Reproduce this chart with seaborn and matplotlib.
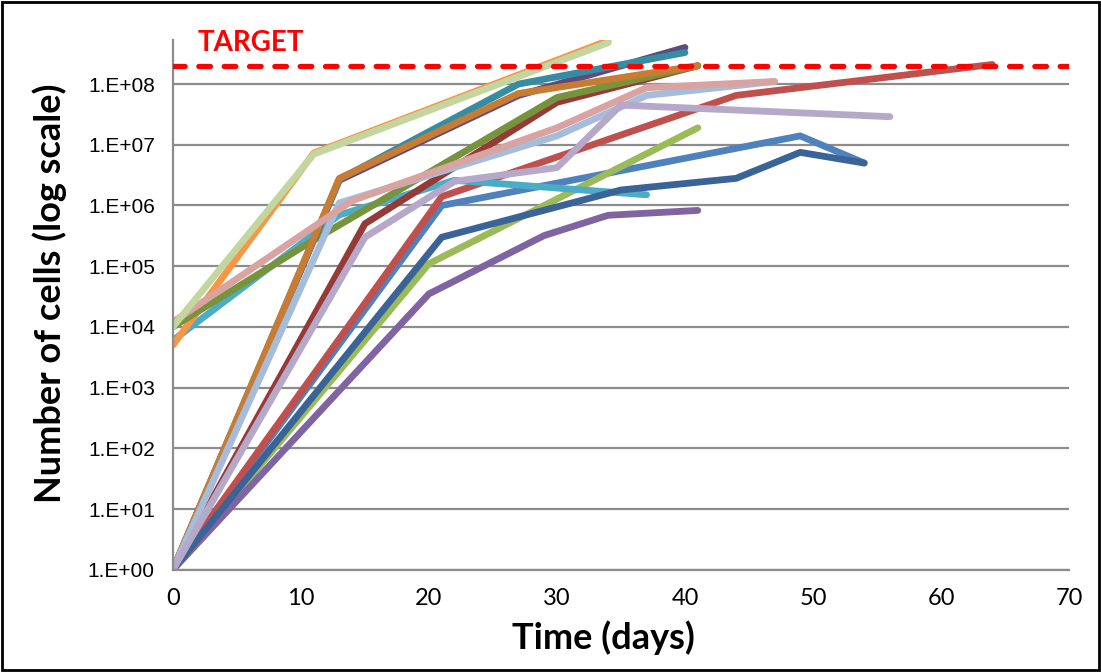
import matplotlib
matplotlib.use("Agg")
import matplotlib.pyplot as plt
import seaborn as sns
import numpy as np
import pandas as pd
from matplotlib.patches import Rectangle

# ---------------- data ----------------
blue_days = [0, 21, 49, 54]
blue_cells = [1, 1.0e6, 1.4e7, 5.0e6]
red_days = [0, 21, 44, 64]
red_cells = [1, 1.4e6, 6.5e7, 2.1e8]
green_days = [0, 20, 41]
green_cells = [1, 1.1e5, 1.9e7]
purple_days = [0, 20, 29, 34, 41]
purple_cells = [1, 3.5e4, 3.2e5, 6.9e5, 8.3e5]
aqua_days = [0, 13, 22, 37]
aqua_cells = [6.0e3, 7.0e5, 2.6e6, 1.5e6]
orange_days = [0, 11, 34]
orange_cells = [5.0e3, 7.3e6, 5.2e8]
darkblue_days = [0, 21, 35, 44, 49, 54]
darkblue_cells = [1, 3.0e5, 1.8e6, 2.8e6, 7.5e6, 5.0e6]
darkred_days = [0, 15, 30, 41]
darkred_cells = [1, 5.0e5, 5.0e7, 2.0e8]
olive_days = [0, 11, 30, 41]
olive_cells = [1.0e4, 2.7e5, 6.0e7, 2.0e8]
darkpurple_days = [0, 13, 27, 40]
darkpurple_cells = [1, 2.6e6, 6.5e7, 4.0e8]
teal_days = [0, 13, 27, 40]
teal_cells = [1, 2.7e6, 1.0e8, 3.3e8]
brown_days = [0, 13, 27, 41]
brown_cells = [1, 2.8e6, 7.0e7, 2.0e8]
lightblue_days = [0, 13, 30, 37, 47]
lightblue_cells = [1, 1.1e6, 1.4e7, 6.5e7, 1.1e8]
pink_days = [0, 14, 30, 37, 47]
pink_cells = [1.2e4, 1.2e6, 1.9e7, 8.7e7, 1.1e8]
lightgreen_days = [0, 11, 34]
lightgreen_cells = [1.0e4, 7.0e6, 4.8e8]
lightpurple_days = [0, 15, 22, 30, 35, 56]
lightpurple_cells = [1, 3.0e5, 2.5e6, 4.2e6, 4.5e7, 2.9e7]

target_value = 2.0e8
target_label = "TARGET"
x_ticks = [0, 10, 20, 30, 40, 50, 60, 70]
y_ticks = [1e0, 1e1, 1e2, 1e3, 1e4, 1e5, 1e6, 1e7, 1e8]
y_tick_labels = ["1.E+00", "1.E+01", "1.E+02", "1.E+03", "1.E+04",
                 "1.E+05", "1.E+06", "1.E+07", "1.E+08"]
x_label = "Time (days)"
y_label = "Number of cells (log scale)"

series = [
    ("blue", blue_days, blue_cells, "#4F81BD"),
    ("red", red_days, red_cells, "#C0504D"),
    ("green", green_days, green_cells, "#9BBB59"),
    ("purple", purple_days, purple_cells, "#8064A2"),
    ("aqua", aqua_days, aqua_cells, "#4BACC6"),
    ("orange", orange_days, orange_cells, "#F79646"),
    ("darkblue", darkblue_days, darkblue_cells, "#3A6398"),
    ("darkred", darkred_days, darkred_cells, "#963A38"),
    ("olive", olive_days, olive_cells, "#77933C"),
    ("darkpurple", darkpurple_days, darkpurple_cells, "#5E4A7D"),
    ("teal", teal_days, teal_cells, "#368DA3"),
    ("brown", brown_days, brown_cells, "#C87B32"),
    ("lightblue", lightblue_days, lightblue_cells, "#A6BCDB"),
    ("pink", pink_days, pink_cells, "#D9A3A2"),
    ("lightgreen", lightgreen_days, lightgreen_cells, "#C4D6A0"),
    ("lightpurple", lightpurple_days, lightpurple_cells, "#B6A8C9"),
]

# ---------------- style ----------------
sns.set_style("white")
plt.rcParams["font.family"] = ["Lato", "DejaVu Sans"]
plt.rcParams["text.color"] = "black"
plt.rcParams["axes.labelcolor"] = "black"
plt.rcParams["xtick.color"] = "black"
plt.rcParams["ytick.color"] = "black"

fig = plt.figure(figsize=(11.01, 6.72), dpi=100)
ax = fig.add_axes([0.157, 0.152, 0.814, 0.788])

rows = []
for name, d, c, col in series:
    for xi, yi in zip(d, c):
        rows.append({"series": name, "day": xi, "cells": yi})
df = pd.DataFrame(rows)

for name, d, c, col in series:
    sub = df[df["series"] == name]
    sns.lineplot(data=sub, x="day", y="cells", color=col, linewidth=4.9,
                 estimator=None, sort=False, ax=ax, legend=False,
                 solid_capstyle="round", solid_joinstyle="round")

ax.set_yscale("log")
ax.set_xlim(0, 70)
ax.set_ylim(1, 10 ** 8.72)

# target line
ax.axhline(target_value, color="#FF0000", linewidth=3.8,
           linestyle=(0, (2.2, 2.6)), dash_capstyle="round", zorder=5)
ax.text(1.9, 10 ** 8.67, target_label, color="#FF0000", fontsize=20,
        fontweight="bold", ha="left", va="center", family=["Lato", "DejaVu Sans"])

# grid / axes
ax.set_yticks(y_ticks)
ax.set_yticklabels(y_tick_labels, family=["Liberation Sans", "DejaVu Sans"], fontsize=15)
ax.yaxis.set_minor_locator(matplotlib.ticker.NullLocator())
ax.set_xticks(x_ticks)
ax.set_xticklabels([str(t) for t in x_ticks], fontsize=17)
ax.grid(axis="y", color="#8C8C8C", linewidth=1.6)
ax.grid(axis="x", visible=False)
ax.set_axisbelow(True)
for s in ["top", "right"]:
    ax.spines[s].set_visible(False)
for s in ["left", "bottom"]:
    ax.spines[s].set_color("#8C8C8C")
    ax.spines[s].set_linewidth(1.6)
ax.tick_params(axis="both", which="major", direction="out", length=6,
               width=1.4, color="#8C8C8C", labelcolor="black", pad=7)
ax.set_xlabel("")
ax.set_ylabel("")

fig.text(603 / 1101, 1 - 638 / 672, x_label, fontsize=26, fontweight="bold",
         ha="center", va="center", color="black")
fig.text(50 / 1101, 1 - 293 / 672, y_label, fontsize=26, fontweight="bold",
         ha="center", va="center", rotation=90, color="black")

fig.patches.append(Rectangle((0.002, 0.003), 0.996, 0.994, transform=fig.transFigure,
                             fill=False, edgecolor="black", linewidth=2))

fig.savefig("out.png", dpi=100)
